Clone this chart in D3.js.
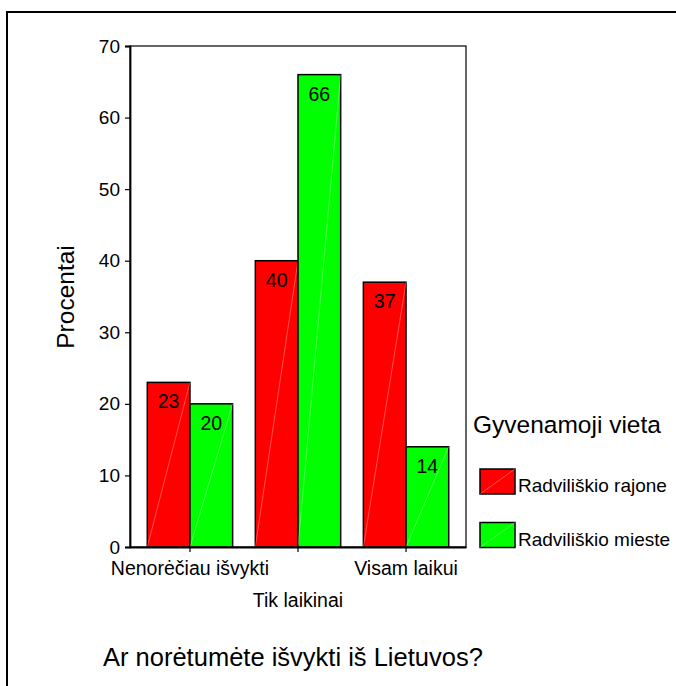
<!DOCTYPE html>
<html><head><meta charset="utf-8">
<script src="https://cdn.jsdelivr.net/npm/d3@7"></script>
<style>body{margin:0;background:#fff}svg{display:block}text{font-family:Arial,"Liberation Sans",sans-serif;fill:#000}</style>
</head><body>
<svg id="c" width="676" height="686"></svg>
<script>
const categories = ["Nenorėčiau išvykti", "Tik laikinai", "Visam laikui"];
const series = ["Radviliškio rajone", "Radviliškio mieste"];
const rajone = [23, 40, 37];
const mieste = [20, 66, 14];
const yTicks = [0, 10, 20, 30, 40, 50, 60, 70];
const colors = ["#ff0000", "#00ff00"];

(function () {
const svg = d3.select("#c");
svg.append("rect").attr("x", 7).attr("y", 12).attr("width", 700).attr("height", 700)
  .attr("fill", "none").attr("stroke", "#000").attr("stroke-width", 2);

const pL = 130, pR = 466, pT = 46, pB = 547;
const y = d3.scaleLinear().domain([0, 70]).range([pB, pT]);
const x = d3.scaleBand().domain(categories).range([pL, pR]).paddingInner(0.21).paddingOuter(0.16);
const xs = d3.scaleBand().domain(series).range([0, x.bandwidth()]);
const values = [rajone, mieste];

svg.append("rect").attr("x", pL).attr("y", pT).attr("width", pR - pL).attr("height", pB - pT)
  .attr("fill", "none").attr("stroke", "#000").attr("stroke-width", 1.2);

const data = [];
categories.forEach((c, i) => series.forEach((s, j) => data.push({c, s, j, v: values[j][i]})));

const g = svg.append("g");
data.forEach(d => {
  const x0 = x(d.c) + xs(d.s), w = xs.bandwidth(), y0 = y(d.v);
  g.append("rect").attr("x", x0).attr("y", y0).attr("width", w).attr("height", pB - y0)
    .attr("fill", colors[d.j]).attr("stroke", "#000").attr("stroke-width", 1.5);
  g.append("line").attr("x1", x0).attr("y1", pB).attr("x2", x0 + w).attr("y2", y0)
    .attr("stroke", "#fff").attr("stroke-opacity", 0.45).attr("stroke-width", 0.7);
  g.append("text").attr("x", x0 + w / 2).attr("y", y0 + 26).attr("text-anchor", "middle")
    .attr("font-size", 19.5).text(d.v);
});

const ya = svg.append("g").attr("transform", `translate(${pL},0)`)
  .call(d3.axisLeft(y).tickValues(yTicks).tickSize(5).tickPadding(5));
ya.select(".domain").attr("stroke-width", 1.8);
ya.selectAll(".tick line").attr("stroke-width", 1.2);
ya.selectAll("text").attr("font-size", 19).style("font-family", "Arial, 'Liberation Sans', sans-serif");

const xa = svg.append("g").attr("transform", `translate(0,${pB})`)
  .call(d3.axisBottom(x).tickSize(5).tickSizeOuter(0).tickFormat(""));
xa.select(".domain").attr("stroke-width", 1.8);
xa.selectAll(".tick line").attr("stroke-width", 1.2);
categories.forEach((c, i) => {
  svg.append("text").attr("x", x(c) + x.bandwidth() / 2).attr("y", i === 1 ? 607 : 575)
    .attr("text-anchor", "middle").attr("font-size", 19.5).text(c);
});

svg.append("text").attr("transform", "translate(74,297) rotate(-90)").attr("text-anchor", "middle")
  .attr("font-size", 24.5).text("Procentai");

svg.append("text").attr("x", 473).attr("y", 433).attr("font-size", 24.5).text("Gyvenamoji vieta");
series.forEach((s, j) => {
  const ly = 469 + j * 53.5;
  svg.append("rect").attr("x", 480).attr("y", ly).attr("width", 35).attr("height", 25)
    .attr("fill", colors[j]).attr("stroke", "#000").attr("stroke-width", 1.5);
  svg.append("line").attr("x1", 480).attr("y1", ly + 25).attr("x2", 515).attr("y2", ly)
    .attr("stroke", "#fff").attr("stroke-opacity", 0.45).attr("stroke-width", 0.7);
  svg.append("text").attr("x", 518).attr("y", ly + 23).attr("font-size", 19).text(s);
});

svg.append("text").attr("x", 103).attr("y", 666).attr("font-size", 25.5).text("Ar norėtumėte išvykti iš Lietuvos?");
})();
</script>
</body></html>
